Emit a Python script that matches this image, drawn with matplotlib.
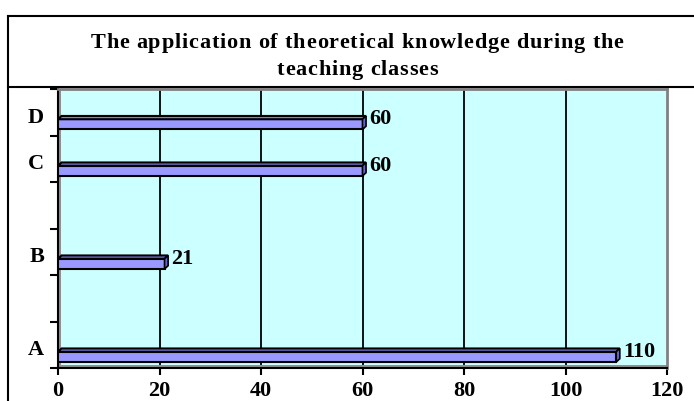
import matplotlib.pyplot as plt
import matplotlib.transforms as mtransforms
import numpy as np
from matplotlib.patches import Polygon, Rectangle
from matplotlib.lines import Line2D

# data
categories = ["A", "", "B", "", "C", "D"]
values = [110, None, 21, None, 60, 60]
xticks = [0, 20, 40, 60, 80, 100, 120]
title_lines = ["The application of theoretical knowledge during the", "teaching classes"]

W, H = 694, 401
fig = plt.figure(figsize=(W / 100, H / 100), dpi=100)
plt.rcParams['font.family'] = ['Liberation Serif', 'DejaVu Serif']

def fx(px): return px / W
def fy(py): return 1 - py / H

# outer frame and title separator
for (x0, y0, x1, y1) in [(8, 16, 8, H), (8, 16, W, 16), (8, 87, W, 87)]:
    fig.add_artist(Line2D([fx(x0), fx(x1)], [fy(y0), fy(y1)], color="black", lw=1.5))

# title with a little letter spacing (Excel-like)
r = fig.canvas.get_renderer()
tfs = 16
def text_w(s):
    t = fig.text(0, 0, s, fontsize=tfs, fontweight="bold")
    w = t.get_window_extent(r).width
    t.remove()
    return w
base = text_w("xx")
def char_w(c):
    return text_w("x" + c + "x") - base

widths = [[char_w(c) for c in line] for line in title_lines]
gap = max(0, (533 - sum(widths[0])) / (len(title_lines[0]) - 1))
for line, ws, yb in zip(title_lines, widths, [48, 75]):
    total = sum(ws) + gap * (len(line) - 1)
    x = 357 - total / 2
    for c, w in zip(line, ws):
        if c != " ":
            fig.text(fx(x), fy(yb), c, fontsize=tfs, fontweight="bold",
                     ha="left", va="baseline")
        x += w + gap

ax = fig.add_axes([fx(58), fy(368), fx(667) - fx(58), fy(89) - fy(368)])
ax.set_facecolor("#CCFFFF")
ax.set_xlim(0, 120)
ax.set_ylim(-0.5, len(categories) - 0.5)

for x in xticks[1:-1]:
    ax.axvline(x, color="black", lw=1.3, zorder=1)

for s in ["top", "right"]:
    ax.spines[s].set_color("#808080")
    ax.spines[s].set_linewidth(2)
ax.spines["bottom"].set_linewidth(1.5)
ax.spines["left"].set_linewidth(1.5)

# wall and floor strips
ax.add_patch(Rectangle((0, -0.5), 0.55, len(categories), facecolor="#909090",
                       edgecolor="none", zorder=2))
ax.add_patch(Rectangle((0, -0.5), 120, 0.065, facecolor="#909090",
                       edgecolor="none", zorder=2))

ax.set_xticks(xticks)
ax.set_xticklabels([str(x) for x in xticks], fontsize=16, fontweight="bold")
ax.tick_params(axis="x", length=5, width=1.5, pad=4)

ax.set_yticks(range(len(categories)))
ax.set_yticklabels(categories, fontsize=16, fontweight="bold")
ax.tick_params(axis="y", length=0, pad=10)
shift = mtransforms.ScaledTranslation(0, -3 / 100, fig.dpi_scale_trans)
for lab in ax.get_yticklabels():
    lab.set_transform(lab.get_transform() + shift)
ax.set_yticks(np.arange(-0.5, len(categories), 1.0), minor=True)
ax.tick_params(axis="y", which="minor", length=6, width=1.5)

off, h = -0.26, 0.22
dx, dy = 0.7, 0.07
front = "#9999FF"
for i, v in enumerate(values):
    if v is None:
        continue
    y0 = i + off - h / 2
    y1 = i + off + h / 2
    ax.add_patch(Rectangle((0, y0), v, h, facecolor=front, edgecolor="black",
                           lw=1.5, zorder=3))
    ax.add_patch(Polygon([(0, y1), (v, y1), (v + dx, y1 + dy), (dx, y1 + dy)],
                         facecolor="#8080E6", edgecolor="black", lw=1.5, zorder=3))
    ax.add_patch(Polygon([(v, y0), (v + dx, y0 + dy), (v + dx, y1 + dy), (v, y1)],
                         facecolor="#6666CC", edgecolor="black", lw=1.2, zorder=3))
    ax.annotate(str(v), (v, y1), xytext=(5, 0), textcoords="offset points",
                ha="left", va="center", fontsize=16, fontweight="bold", zorder=4)

fig.savefig("out.png", dpi=100)
